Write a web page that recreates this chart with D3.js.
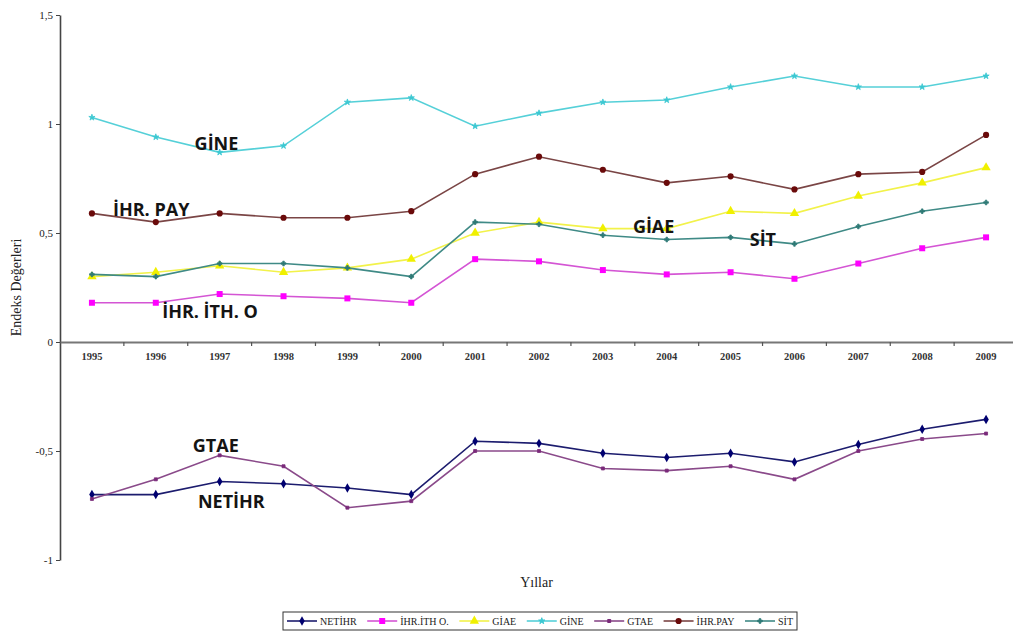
<!DOCTYPE html>
<html>
<head>
<meta charset="utf-8">
<script src="https://cdn.jsdelivr.net/npm/d3@7"></script>
<style>
  html, body { margin: 0; padding: 0; background: #fff; }
  svg { display: block; }
</style>
</head>
<body>
<svg id="chart" width="1013" height="633"></svg>
<script>
// Yıllar ve endeks değerleri
const years = ["1995","1996","1997","1998","1999","2000","2001","2002","2003","2004","2005","2006","2007","2008","2009"];
const yTicks = [-1, -0.5, 0, 0.5, 1, 1.5];

const netihr  = [-0.70,-0.70,-0.64,-0.65,-0.67,-0.70,-0.455,-0.465,-0.51,-0.53,-0.51,-0.55,-0.47,-0.40,-0.355];
const ihrIthO = [0.18,0.18,0.22,0.21,0.20,0.18,0.38,0.37,0.33,0.31,0.32,0.29,0.36,0.43,0.48];
const giae    = [0.30,0.32,0.35,0.32,0.34,0.38,0.50,0.55,0.52,0.52,0.60,0.59,0.67,0.73,0.80];
const gine    = [1.03,0.94,0.87,0.90,1.10,1.12,0.99,1.05,1.10,1.11,1.17,1.22,1.17,1.17,1.22];
const gtae    = [-0.72,-0.63,-0.52,-0.57,-0.76,-0.73,-0.50,-0.50,-0.58,-0.59,-0.57,-0.63,-0.50,-0.445,-0.42];
const ihrPay  = [0.59,0.55,0.59,0.57,0.57,0.60,0.77,0.85,0.79,0.73,0.76,0.70,0.77,0.78,0.95];
const sit     = [0.31,0.30,0.36,0.36,0.34,0.30,0.55,0.54,0.49,0.47,0.48,0.45,0.53,0.60,0.64];

const seriesNames = ["NETİHR", "İHR.İTH O.", "GİAE", "GİNE", "GTAE", "İHR.PAY", "SİT"];
const seriesValues = [netihr, ihrIthO, giae, gine, gtae, ihrPay, sit];

// Grafik üzerindeki seri etiketleri
const labelTexts = ["GİNE", "İHR. PAY", "İHR. İTH. O", "GİAE", "SİT", "GTAE", "NETİHR"];

// Görünüm ayarları
const styles = [
  { line: "#1c1c6e", fill: "#000070", symbol: d3.symbolDiamond, size: 26 },
  { line: "#d455d4", fill: "#ff00ff", symbol: d3.symbolSquare, size: 36 },
  { line: "#f2f24a", fill: "#f0f000", symbol: d3.symbolTriangle, size: 38 },
  { line: "#55d0d8", fill: "#3cc8d2", symbol: d3.symbolStar, size: 12 },
  { line: "#8a4a8a", fill: "#7a2a7a", symbol: d3.symbolSquare, size: 9 },
  { line: "#7a4545", fill: "#6a0a0a", symbol: d3.symbolCircle, size: 30 },
  { line: "#3f8a86", fill: "#2f7a76", symbol: d3.symbolCross, size: 12 }
];
// Etiket yerleşimi (yıl sırası, değer)
const labelPos = [
  { at: 1.95, v: 0.88, anchor: "middle" },
  { at: 0.33, v: 0.58, anchor: "start" },
  { at: 1.1, v: 0.11, anchor: "start" },
  { at: 8.47, v: 0.50, anchor: "start" },
  { at: 10.3, v: 0.44, anchor: "start" },
  { at: 1.58, v: -0.505, anchor: "start" },
  { at: 1.66, v: -0.76, anchor: "start" }
];

const svg = d3.select("#chart");
const mLeft = 60, mRight = 1018, mTop = 15, mBottom = 560;

const x = d3.scaleBand().domain(years).range([mLeft, mRight]);
const y = d3.scaleLinear().domain([-1, 1.5]).range([mBottom, mTop]);
const cx = i => x(years[i]) + x.bandwidth() / 2;
const fmt = d => String(d).replace(".", ",");
const serif = "Liberation Serif, Times New Roman, serif";

// Y ekseni
const yAxis = svg.append("g")
  .attr("transform", `translate(${mLeft},0)`)
  .call(d3.axisLeft(y).tickValues(yTicks).tickFormat(fmt).tickSizeInner(4).tickSizeOuter(0));
yAxis.select(".domain").attr("stroke", "#444").attr("stroke-width", 1.6);
yAxis.selectAll(".tick line").attr("stroke", "#444");
yAxis.selectAll(".tick text")
  .attr("font-family", serif)
  .attr("font-size", 11).attr("fill", "#222").attr("x", -7);

// X ekseni (sıfır çizgisi)
const xAxis = svg.append("g")
  .attr("transform", `translate(0,${y(0)})`)
  .call(d3.axisBottom(x).tickSize(0).tickPadding(11));
xAxis.select(".domain").attr("stroke", "#777").attr("stroke-width", 2.2);
xAxis.selectAll(".tick text")
  .attr("font-family", serif)
  .attr("font-size", 10.5).attr("font-weight", "bold").attr("fill", "#333");
xAxis.selectAll(".boundary")
  .data(years.slice(0, -1))
  .join("line")
  .attr("x1", d => x(d) + x.step()).attr("x2", d => x(d) + x.step())
  .attr("y1", 0).attr("y2", 4)
  .attr("stroke", "#555").attr("stroke-width", 1.2);

// Eksen başlıkları
svg.append("text")
  .attr("transform", `translate(21,${(y(0.5) + y(0)) / 2}) rotate(-90)`)
  .attr("text-anchor", "middle")
  .attr("font-family", serif)
  .attr("font-size", 14).attr("fill", "#222")
  .text("Endeks Değerleri");
svg.append("text")
  .attr("x", (mLeft + 1013) / 2).attr("y", 587)
  .attr("text-anchor", "middle")
  .attr("font-family", serif)
  .attr("font-size", 14).attr("fill", "#222")
  .text("Yıllar");

// Seriler
const line = d3.line().x((d, i) => cx(i)).y(d => y(d));
const stroked = st => st.symbol === d3.symbolStar || st.symbol === d3.symbolCross || st.size < 12;
seriesValues.forEach((vals, k) => {
  const st = styles[k];
  const g = svg.append("g");
  g.append("path").datum(vals).attr("d", line)
    .attr("fill", "none").attr("stroke", st.line).attr("stroke-width", 1.6);
  g.selectAll("path.m").data(vals).join("path").attr("class", "m")
    .attr("transform", (d, i) => `translate(${cx(i)},${y(d)})`)
    .attr("d", d3.symbol().type(st.symbol).size(st.size))
    .attr("fill", st.fill)
    .attr("stroke", stroked(st) ? st.fill : "none")
    .attr("stroke-width", 0.8);
});

// Seri etiketleri
svg.selectAll("text.lbl").data(labelTexts).join("text").attr("class", "lbl")
  .attr("x", (d, i) => cx(0) + labelPos[i].at * x.step())
  .attr("y", (d, i) => y(labelPos[i].v))
  .attr("text-anchor", (d, i) => labelPos[i].anchor)
  .attr("font-family", "Open Sans, Noto Sans, sans-serif")
  .attr("font-weight", 700).attr("font-size", 18).attr("fill", "#141414")
  .attr("textLength", null)
  .text(d => d);

// Gösterge
const legend = svg.append("g");
const boxX = 283, boxY = 612, boxW = 514, boxH = 18;
legend.append("rect").attr("x", boxX).attr("y", boxY).attr("width", boxW).attr("height", boxH)
  .attr("fill", "#fff").attr("stroke", "#333").attr("stroke-width", 1);
const gy = boxY + boxH / 2;
const items = seriesNames.map((name, k) => {
  const st = styles[k];
  const g = legend.append("g");
  g.append("line").attr("x1", 0).attr("x2", 30).attr("y1", gy).attr("y2", gy)
    .attr("stroke", st.line).attr("stroke-width", 1.6);
  g.append("path").attr("transform", `translate(15,${gy})`)
    .attr("d", d3.symbol().type(st.symbol).size(st.size))
    .attr("fill", st.fill)
    .attr("stroke", stroked(st) ? st.fill : "none");
  const t = g.append("text").attr("x", 33).attr("y", gy + 3.5)
    .attr("font-family", serif)
    .attr("font-size", 10).attr("fill", "#222")
    .text(name);
  return { g, w: 33 + t.node().getComputedTextLength() };
});
const totalW = d3.sum(items, d => d.w);
const gap = (boxW - 8 - totalW) / (items.length - 1);
let cur = boxX + 4;
items.forEach(it => {
  it.g.attr("transform", `translate(${cur},0)`);
  cur += it.w + gap;
});
</script>
</body>
</html>
